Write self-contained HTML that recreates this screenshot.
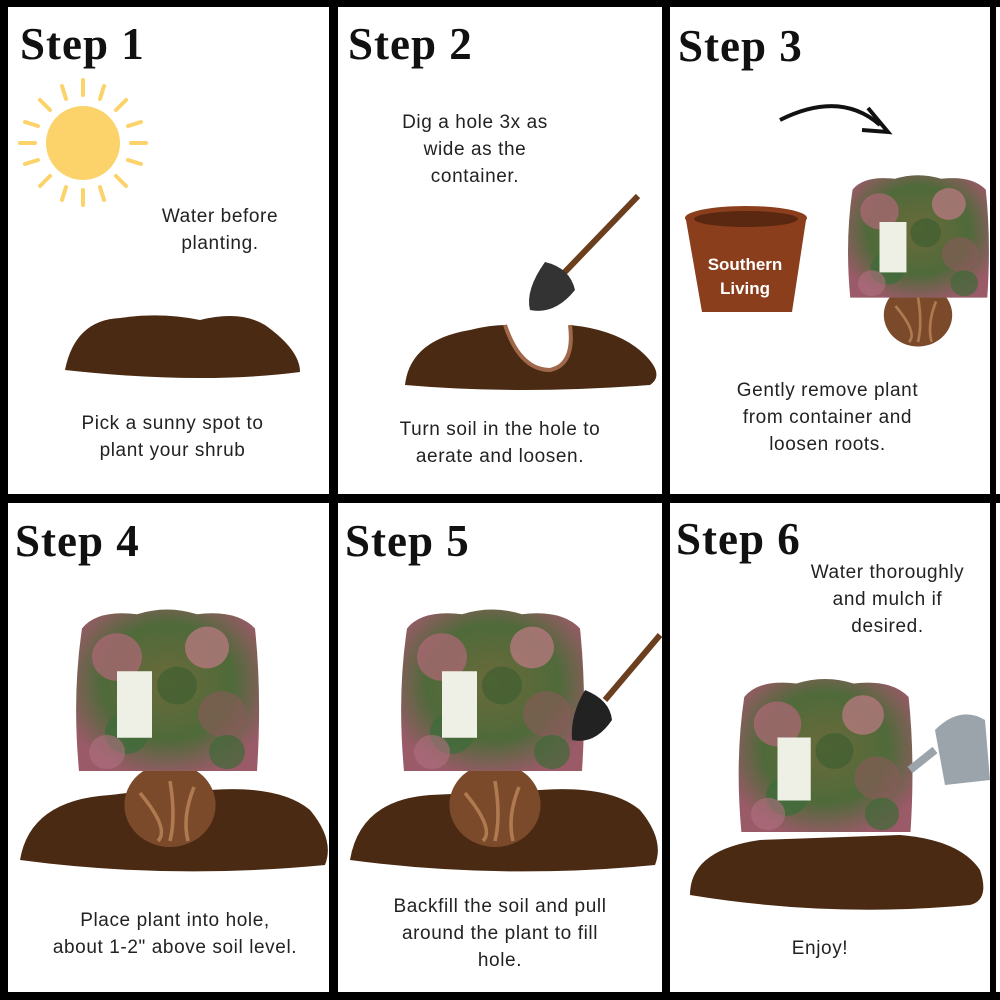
<!DOCTYPE html>
<html><head><style>
body{margin:0;width:1000px;height:1000px;background:#fff;position:relative;overflow:hidden;font-family:"Liberation Sans",sans-serif}
.b{position:absolute;background:#000}
.h{position:absolute;font-family:"Liberation Serif",serif;font-weight:bold;font-size:45px;color:#111;letter-spacing:1px}
.t{position:absolute;font-size:19px;color:#222;text-align:center;line-height:27px;letter-spacing:0.6px}
svg{position:absolute;left:0;top:0}
</style></head><body>
<svg width="1000" height="1000">
<defs>
<radialGradient id="lf" cx="50%" cy="45%" r="60%"><stop offset="0" stop-color="#6b6a3a"/><stop offset="0.6" stop-color="#4f6a3a"/><stop offset="1" stop-color="#9a5a68"/></radialGradient>
<g id="plant">
<path d="M-85 -70 Q-70 -90 -30 -85 Q0 -95 30 -85 Q70 -90 88 -70 Q95 0 90 80 L-88 80 Q-95 0 -85 -70Z" fill="url(#lf)"/>
<circle cx="-50" cy="-40" r="25" fill="#b06878" opacity=".7"/><circle cx="40" cy="-50" r="22" fill="#c07a86" opacity=".7"/>
<circle cx="55" cy="20" r="24" fill="#8a5a5a" opacity=".6"/><circle cx="-40" cy="40" r="22" fill="#3f6b3a" opacity=".8"/>
<circle cx="10" cy="-10" r="20" fill="#3f5f30" opacity=".7"/>
<circle cx="-60" cy="60" r="18" fill="#b07080" opacity=".6"/><circle cx="60" cy="60" r="18" fill="#3f6a38" opacity=".7"/>
<rect x="-50" y="-25" width="35" height="70" fill="#eef0e6"/>
</g>
<g id="ball"><ellipse cx="0" cy="0" rx="38" ry="35" fill="#7a4a2a"/><path d="M-25 -10 Q0 20 -10 30 M0 -20 Q5 10 0 30 M20 -15 Q10 10 15 30" stroke="#b07a50" stroke-width="3" fill="none"/></g>
</defs>
<circle cx="83" cy="143" r="37" fill="#fbd36a"/>
<g stroke="#fbd36a" stroke-width="4" stroke-linecap="round">
<line x1="83" y1="80" x2="83" y2="95"/><line x1="83" y1="190" x2="83" y2="205"/>
<line x1="20" y1="143" x2="35" y2="143"/><line x1="131" y1="143" x2="146" y2="143"/>
<line x1="40" y1="100" x2="50" y2="110"/><line x1="116" y1="176" x2="126" y2="186"/>
<line x1="126" y1="100" x2="116" y2="110"/><line x1="40" y1="186" x2="50" y2="176"/>
<line x1="62" y1="86" x2="66" y2="99"/><line x1="104" y1="86" x2="100" y2="99"/>
<line x1="62" y1="200" x2="66" y2="187"/><line x1="104" y1="200" x2="100" y2="187"/>
<line x1="25" y1="122" x2="38" y2="126"/><line x1="141" y1="122" x2="128" y2="126"/>
<line x1="25" y1="164" x2="38" y2="160"/><line x1="141" y1="164" x2="128" y2="160"/>
</g>
<path d="M65 370 Q75 320 120 318 Q160 312 200 320 Q240 310 265 325 Q300 350 300 372 Q200 385 65 370Z" fill="#4a2a12"/>
<path d="M405 385 Q410 340 470 330 Q490 325 505 325 Q520 370 550 370 Q575 365 570 325 Q620 330 645 355 Q665 375 650 385 Q520 395 405 385Z" fill="#4a2a12"/>
<path d="M505 325 Q520 370 550 370 Q575 365 570 325" stroke="#a0684a" stroke-width="4" fill="none"/>
<line x1="638" y1="196" x2="562" y2="275" stroke="#6b3e1e" stroke-width="6"/>
<path d="M545 262 Q570 268 575 290 Q555 315 530 310 Q525 290 545 262Z" fill="#333"/>
<path d="M780 120 Q840 90 880 125" stroke="#111" stroke-width="4" fill="none"/><path d="M868 108 L888 132 L862 130" stroke="#111" stroke-width="4" fill="none"/>
<path d="M686 220 L806 220 L792 312 L702 312Z" fill="#8a3e1c"/>
<ellipse cx="746" cy="218" rx="61" ry="12" fill="#8a3e1c"/><ellipse cx="746" cy="219" rx="52" ry="8" fill="#5a2810"/>
<use href="#ball" transform="translate(918,315) scale(0.9)"/>
<use href="#plant" transform="translate(918,240) scale(0.77,0.72)"/>
<path d="M20 860 Q30 800 110 795 Q150 790 160 790 L210 790 Q280 785 310 810 Q335 840 325 865 Q170 880 20 860Z" fill="#4a2a12"/>
<use href="#ball" transform="translate(170,805) scale(1.2)"/>
<use href="#plant" transform="translate(167,695) scale(1,0.95)"/>
<path d="M350 860 Q360 800 430 795 L540 790 Q610 785 640 810 Q665 840 655 865 Q500 880 350 860Z" fill="#4a2a12"/>
<use href="#ball" transform="translate(495,805) scale(1.2)"/>
<use href="#plant" transform="translate(492,695) scale(1,0.95)"/>
<line x1="660" y1="635" x2="605" y2="700" stroke="#6b3e1e" stroke-width="6"/>
<path d="M585 690 Q610 700 612 720 Q595 745 572 740 Q570 715 585 690Z" fill="#222"/>
<path d="M690 895 Q690 850 760 840 L900 835 Q960 840 980 870 Q990 900 970 905 Q830 918 690 895Z" fill="#4a2a12"/>
<use href="#plant" transform="translate(825,760) scale(0.95,0.9)"/>
<path d="M935 730 Q960 705 985 720 L990 780 L945 785Z" fill="#9aa4aa"/><path d="M935 750 L910 770" stroke="#9aa4aa" stroke-width="8"/>
</svg>
<div class="b" style="left:0;top:0;width:1000px;height:7px"></div>
<div class="b" style="left:0;top:992px;width:1000px;height:8px"></div>
<div class="b" style="left:0;top:0;width:8px;height:1000px"></div>
<div class="b" style="left:990px;top:0;width:6px;height:1000px"></div>
<div class="b" style="left:329px;top:0;width:9px;height:1000px"></div>
<div class="b" style="left:662px;top:0;width:8px;height:1000px"></div>
<div class="b" style="left:0;top:494px;width:1000px;height:9px"></div>
<div class="h" style="left:20px;top:18px">Step 1</div>
<div class="h" style="left:348px;top:18px">Step 2</div>
<div class="h" style="left:678px;top:20px">Step 3</div>
<div class="h" style="left:15px;top:515px">Step 4</div>
<div class="h" style="left:345px;top:515px">Step 5</div>
<div class="h" style="left:676px;top:513px">Step 6</div>
<div class="t" style="left:120px;top:203px;width:200px">Water before<br>planting.</div>
<div class="t" style="left:40px;top:410px;width:265px">Pick a sunny spot to<br>plant your shrub</div>
<div class="t" style="left:360px;top:109px;width:230px">Dig a hole 3x as<br>wide as the<br>container.</div>
<div class="t" style="left:360px;top:416px;width:280px">Turn soil in the hole to<br>aerate and loosen.</div>
<div class="t" style="left:700px;top:253px;width:90px;color:#fff;font-weight:bold;font-size:17px;line-height:24px;letter-spacing:0">Southern Living</div>
<div class="t" style="left:690px;top:377px;width:275px">Gently remove plant<br>from container and<br>loosen roots.</div>
<div class="t" style="left:25px;top:907px;width:300px">Place plant into hole,<br>about 1-2" above soil level.</div>
<div class="t" style="left:360px;top:893px;width:280px">Backfill the soil and pull<br>around the plant to fill<br>hole.</div>
<div class="t" style="left:780px;top:559px;width:215px">Water thoroughly<br>and mulch if<br>desired.</div>
<div class="t" style="left:770px;top:935px;width:100px">Enjoy!</div>
</body></html>
